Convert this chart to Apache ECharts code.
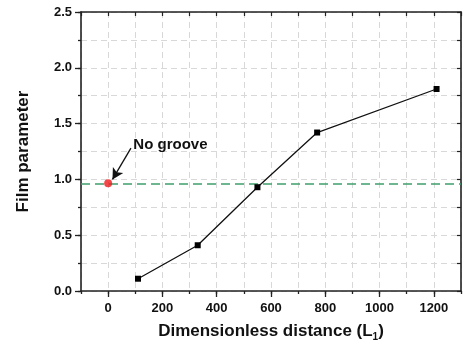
<!DOCTYPE html>
<html><head><meta charset="utf-8">
<script src="https://cdn.jsdelivr.net/npm/echarts@6/dist/echarts.min.js"></script>
<style>html,body{margin:0;padding:0;background:#fff}#c{width:464px;height:347px}</style>
</head><body><div id="c"></div>
<script>
const xValues = [110, 330, 550, 770, 1210];
const yValues = [0.11, 0.41, 0.93, 1.42, 1.81];
const noGroove = [0, 0.965];
const xMajorTicks = [0, 200, 400, 600, 800, 1000, 1200];
const yMajorTicks = [0, 0.5, 1.0, 1.5, 2.0, 2.5];
const labelText = 'No groove';
const labelPos = [91, 1.31];
const arrowFrom = [84, 1.28];
const arrowTo = [16, 1.0];

const font = 'Arial, "Liberation Sans", sans-serif';
const axisCol = '#222';
const chart = echarts.init(document.getElementById('c'));
const xBase = {min: -100, max: 1300, interval: 100, type: 'value', gridIndex: 0};
const yBase = {min: 0, max: 2.5, interval: 0.25, type: 'value', gridIndex: 0};
chart.setOption({
  animation: false,
  grid: {left: 81, right: 1, top: 12, bottom: 56, containLabel: false},
  xAxis: [
    Object.assign({}, xBase, {
      position: 'bottom',
      axisLine: {show: true, onZero: false, lineStyle: {color: axisCol, width: 1.6}},
      axisTick: {show: true, length: 3, lineStyle: {color: axisCol, width: 1.3}},
      axisLabel: {fontFamily: font, fontWeight: 'bold', fontSize: 13, color: '#111', margin: 11,
        formatter: v => (v % 200 === 0 && v >= 0 && v <= 1200) ? String(v) : ''},
      splitLine: {show: true, lineStyle: {color: '#d8d8d8', type: [6, 4], width: 1}},
      name: '{a|Dimensionless distance (L}{b|1}{a|)}',
      nameLocation: 'middle', nameGap: 30,
      nameTextStyle: {rich: {
        a: {fontFamily: font, fontWeight: 'bold', fontSize: 17, color: '#111'},
        b: {fontFamily: font, fontWeight: 'bold', fontSize: 10, color: '#111', padding: [11, 0, 0, 0]}
      }}
    }),
    Object.assign({}, xBase, {
      position: 'bottom',
      axisLine: {show: false, onZero: false},
      axisTick: {show: true, length: 6, customValues: xMajorTicks, lineStyle: {color: axisCol, width: 1.3}},
      axisLabel: {show: false}, splitLine: {show: false}
    }),
    Object.assign({}, xBase, {
      position: 'top',
      axisLine: {show: true, onZero: false, lineStyle: {color: axisCol, width: 1.6}},
      axisTick: {show: true, inside: true, length: 4, lineStyle: {color: axisCol, width: 1.2}},
      axisLabel: {show: false}, splitLine: {show: false}
    })
  ],
  yAxis: [
    Object.assign({}, yBase, {
      position: 'left',
      axisLine: {show: true, onZero: false, lineStyle: {color: axisCol, width: 1.6}},
      axisTick: {show: true, length: 3, lineStyle: {color: axisCol, width: 1.3}},
      axisLabel: {fontFamily: font, fontWeight: 'bold', fontSize: 13, color: '#111', margin: 9,
        formatter: v => (Math.abs(v * 2 - Math.round(v * 2)) < 1e-6) ? v.toFixed(1) : ''},
      splitLine: {show: true, lineStyle: {color: '#d8d8d8', type: [6, 4], width: 1}},
      name: 'Film parameter', nameLocation: 'middle', nameGap: 49, nameRotate: 90,
      nameTextStyle: {fontFamily: font, fontWeight: 'bold', fontSize: 17, color: '#111'}
    }),
    Object.assign({}, yBase, {
      position: 'left',
      axisLine: {show: false, onZero: false},
      axisTick: {show: true, length: 6, customValues: yMajorTicks, lineStyle: {color: axisCol, width: 1.3}},
      axisLabel: {show: false}, splitLine: {show: false}
    }),
    Object.assign({}, yBase, {
      position: 'right',
      axisLine: {show: true, onZero: false, lineStyle: {color: axisCol, width: 1.6}},
      axisTick: {show: true, inside: true, length: 4, lineStyle: {color: axisCol, width: 1.2}},
      axisLabel: {show: false}, splitLine: {show: false}
    })
  ],
  series: [
    {
      type: 'line', xAxisIndex: 0, yAxisIndex: 0,
      data: xValues.map((x, i) => [x, yValues[i]]),
      symbol: 'rect', symbolSize: 6, showSymbol: true,
      lineStyle: {color: '#111', width: 1.3},
      itemStyle: {color: '#000'},
      z: 5
    },
    {
      type: 'scatter', xAxisIndex: 0, yAxisIndex: 0,
      data: [noGroove], symbol: 'circle', symbolSize: 8,
      itemStyle: {color: '#ee1c1c'}, z: 6,
      markLine: {
        silent: true, symbol: ['none', 'none'],
        label: {show: false},
        lineStyle: {color: '#3e9e6c', type: [9, 5], width: 1.6},
        data: [{yAxis: noGroove[1]}]
      },
      markPoint: {
        silent: true,
        data: [{coord: labelPos, symbol: 'circle', symbolSize: 1, itemStyle: {color: 'rgba(0,0,0,0)'},
          label: {show: true, position: 'right', distance: 0, formatter: labelText,
            fontFamily: font, fontWeight: 'bold', fontSize: 15, color: '#111'}}]
      }
    },
    {
      type: 'line', xAxisIndex: 0, yAxisIndex: 0, data: [],
      markLine: {
        silent: true, symbol: ['none', 'arrow'], symbolSize: [9, 11],
        label: {show: false},
        lineStyle: {color: '#111', width: 1.3, type: 'solid'},
        data: [[{coord: arrowFrom}, {coord: arrowTo}]]
      }
    }
  ]
});
</script></body></html>
